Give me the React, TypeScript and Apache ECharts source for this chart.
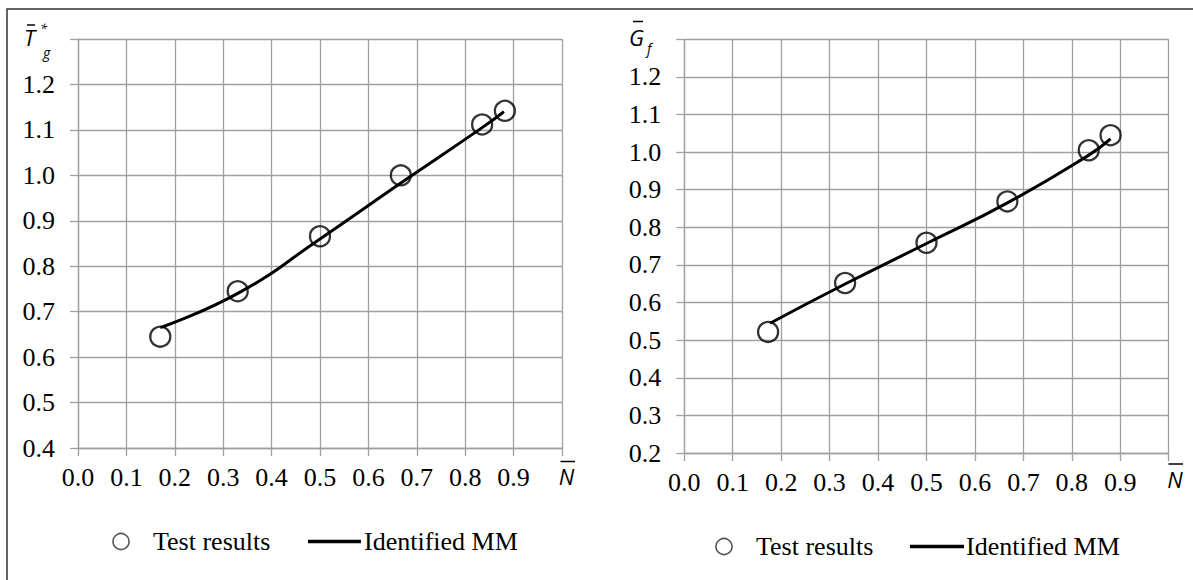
import React, { useEffect, useRef } from "react";
import * as echarts from "echarts";

// ---- data ----
const testNLeft = [0.17, 0.33, 0.5, 0.667, 0.835, 0.882];
const testTg = [0.645, 0.745, 0.866, 1.0, 1.112, 1.142];
const mmNLeft = [0.17, 0.333, 0.5, 0.667, 0.835, 0.88];
const mmTg = [0.665, 0.742, 0.86, 0.983, 1.105, 1.14];

const testNRight = [0.173, 0.332, 0.5, 0.667, 0.835, 0.88];
const testGf = [0.522, 0.652, 0.759, 0.869, 1.005, 1.045];
const mmNRight = [0.177, 0.333, 0.5, 0.667, 0.835, 0.88];
const mmGf = [0.545, 0.65, 0.757, 0.865, 0.992, 1.035];

const xTicks = { min: 0, max: 1, interval: 0.1 };
const yLeftTicks = { min: 0.4, max: 1.3, interval: 0.1 };
const yRightTicks = { min: 0.2, max: 1.3, interval: 0.1 };

const legendTest = "Test results";
const legendMM = "Identified MM";

const zip = (xs: number[], ys: number[]) => xs.map((x, i) => [x, ys[i]]);

const SERIF = "'Liberation Serif', 'Times New Roman', serif";
const SANS = "'Open Sans', 'Noto Sans', sans-serif";
const GRID = "#a0a0a0";

export default function App() {
  const ref = useRef<HTMLDivElement>(null);

  useEffect(() => {
    if (!ref.current) return;
    const chart = echarts.init(ref.current, undefined, { renderer: "svg" });

    const xAxisBase = (gridIndex: number) => ({
      type: "value",
      gridIndex,
      min: xTicks.min,
      max: xTicks.max,
      interval: xTicks.interval,
      axisLine: { show: true, lineStyle: { color: GRID, width: 1.3 } },
      axisTick: { show: true, length: 8, lineStyle: { color: GRID, width: 1.3 } },
      splitLine: { show: true, lineStyle: { color: GRID, width: 1.3 } },
      axisLabel: {
        margin: 16,
        color: "#000",
        fontFamily: SERIF,
        fontSize: 26,
        formatter: (v: number) => (Math.abs(v - xTicks.max) < 1e-6 ? "" : v.toFixed(1)),
      },
    });

    const yAxisBase = (gridIndex: number, t: { min: number; max: number; interval: number }) => ({
      type: "value",
      gridIndex,
      min: t.min,
      max: t.max,
      interval: t.interval,
      axisLine: { show: true, lineStyle: { color: GRID, width: 1.3 } },
      axisTick: { show: true, length: 8, lineStyle: { color: GRID, width: 1.3 } },
      splitLine: { show: true, lineStyle: { color: GRID, width: 1.3 } },
      axisLabel: {
        margin: 23,
        color: "#000",
        fontFamily: SERIF,
        fontSize: 26,
        formatter: (v: number) => (Math.abs(v - t.max) < 1e-6 ? "" : v.toFixed(1)),
      },
    });

    const scatterStyle = {
      symbol: "circle",
      symbolSize: 20,
      itemStyle: { color: "rgba(255,255,255,0)", borderColor: "#000", borderWidth: 2.3 },
      z: 3,
    };
    const lineStyle = {
      smooth: 0.5,
      showSymbol: false,
      symbol: "none",
      lineStyle: { color: "#000", width: 3 },
      z: 2,
    };

    const italic = (text: string, x: number, y: number, size: number, align = "left") => ({
      type: "text",
      x,
      y,
      style: {
        text,
        fill: "#000",
        font: `italic ${size}px ${SANS}`,
        textAlign: align,
        textVerticalAlign: "middle",
      },
    });
    const bar = (x1: number, x2: number, y: number) => ({
      type: "line",
      shape: { x1, y1: y, x2, y2: y },
      style: { stroke: "#000", lineWidth: 1.5 },
    });
    const legendText = (text: string, x: number, y: number) => ({
      type: "text",
      x,
      y,
      style: {
        text,
        fill: "#000",
        font: `26px ${SERIF}`,
        textAlign: "left",
        textVerticalAlign: "middle",
      },
    });
    const legendGroup = (cx: number, tx: number, lx1: number, lx2: number, tx2: number, y: number) => [
      {
        type: "circle",
        shape: { cx, cy: y, r: 8 },
        style: { fill: "none", stroke: "#555", lineWidth: 1.6 },
      },
      legendText(legendTest, tx, y),
      {
        type: "line",
        shape: { x1: lx1, y1: y, x2: lx2, y2: y },
        style: { stroke: "#000", lineWidth: 3.5 },
      },
      legendText(legendMM, tx2, y),
    ];

    chart.setOption({
      animation: false,
      backgroundColor: "#fff",
      grid: [
        { left: 78, top: 39, width: 484, height: 409 },
        { left: 684.3, top: 39.3, width: 484.4, height: 413.7 },
      ],
      xAxis: [xAxisBase(0), xAxisBase(1)],
      yAxis: [yAxisBase(0, yLeftTicks), yAxisBase(1, yRightTicks)],
      series: [
        { type: "line", name: legendMM, xAxisIndex: 0, yAxisIndex: 0, data: zip(mmNLeft, mmTg), ...lineStyle },
        { type: "scatter", name: legendTest, xAxisIndex: 0, yAxisIndex: 0, data: zip(testNLeft, testTg), ...scatterStyle },
        { type: "line", name: legendMM, xAxisIndex: 1, yAxisIndex: 1, data: zip(mmNRight, mmGf), ...lineStyle },
        { type: "scatter", name: legendTest, xAxisIndex: 1, yAxisIndex: 1, data: zip(testNRight, testGf), ...scatterStyle },
      ],
      graphic: [
        {
          type: "rect",
          shape: { x: 7, y: 9, width: 1300, height: 700 },
          style: { fill: "none", stroke: "#333", lineWidth: 1.5 },
          silent: true,
        },
        // left y name: T̄*g
        italic("T", 24, 37, 22),
        bar(27, 35, 25),
        italic("*", 40, 28, 13),
        italic("g", 43, 52, 14),
        // right y name: Ḡf
        italic("G", 629, 36.5, 22),
        bar(633, 643, 21.5),
        italic("f", 647, 48, 14),
        // x names: N̄
        italic("N", 566.5, 476, 22, "center"),
        bar(560.5, 575, 461.5),
        italic("N", 1175, 478.5, 22, "center"),
        bar(1168.5, 1183, 464),
        ...legendGroup(121, 153, 308, 361, 364, 541.5),
        ...legendGroup(724, 756, 910, 964, 966, 546.5),
      ],
    });

    return () => chart.dispose();
  }, []);

  return (
    <div
      ref={ref}
      style={{ position: "fixed", left: 0, top: 0, width: 1193, height: 580, background: "#fff" }}
    />
  );
}
